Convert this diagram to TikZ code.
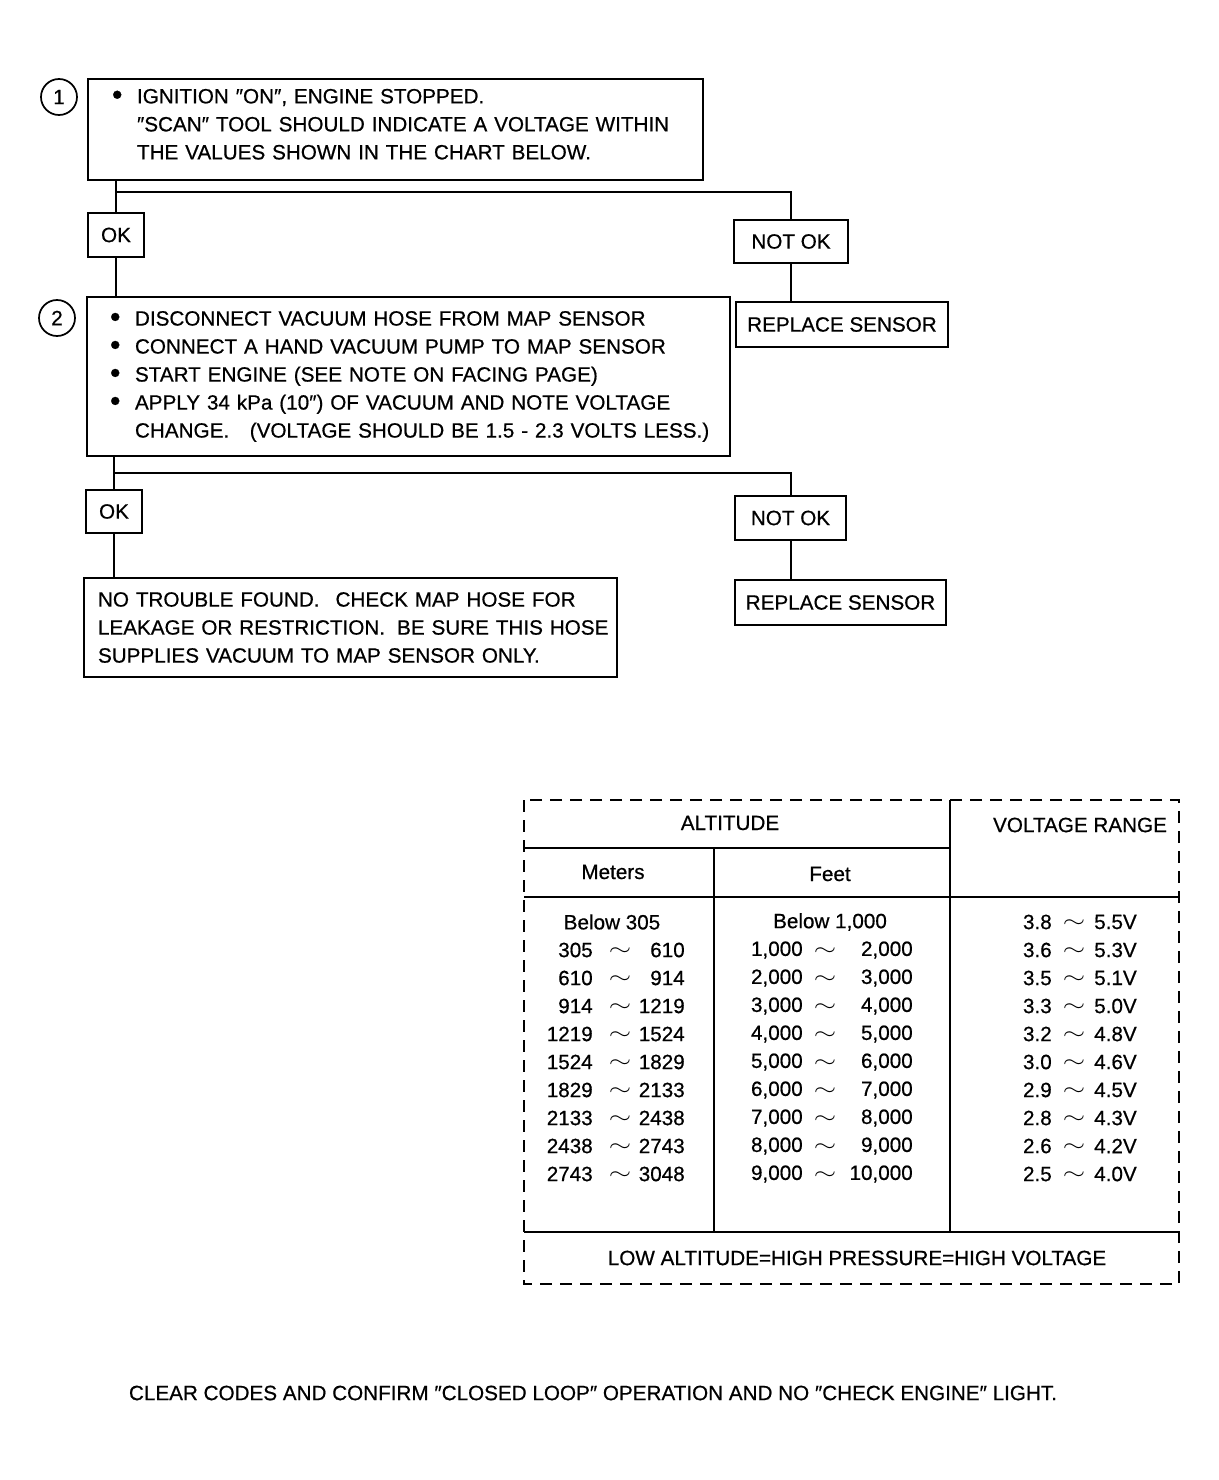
\documentclass[tikz,border=0pt]{standalone}
\usepackage{fontspec}
\setmainfont{Liberation Sans}[FakeBold=0.6]
\newcommand\blt{\makebox[18.75pt][l]{\raisebox{-0.12ex}{\scalebox{1.45}{\textbullet}}}}
\newcommand\ind{\hspace*{18.75pt}}
\newcommand\tl{\scalebox{1.5}[1.1]{$\sim$}}
\newcommand\q{″}
\begin{document}
\begin{tikzpicture}[x=0.75pt,y=-0.75pt,
  box/.style={draw, line width=1.5pt, inner sep=0pt, font=\fontsize{15.5}{21}\selectfont},
  lbl/.style={inner sep=0pt, font=\fontsize{15.5}{21}\selectfont},
  ln/.style={line width=1.5pt},
  num/.style={circle, draw, line width=1.3pt, minimum size=27pt, inner sep=0pt, font=\fontsize{15.5}{18}\selectfont},
  dsh/.style={line width=1.5pt, dash pattern=on 9pt off 6pt}]
\useasboundingbox (0,0) rectangle (1218,1480);
% step 1
\node[num] (c1) at (59,97) {1};
\node[box, minimum width=461.25pt, minimum height=75.75pt, align=left, text width=425.25pt] (b1) at (395.5,129.5)
  {\mbox{\blt IGNITION \q ON\q, ENGINE STOPPED.}\\
   \mbox{\ind \q SCAN\q\ TOOL SHOULD INDICATE A VOLTAGE WITHIN}\\
   \mbox{\ind THE VALUES SHOWN IN THE CHART BELOW.\rule[-8pt]{0pt}{8pt}}};
\node[box, minimum width=42pt, minimum height=33pt] (ok1) at (116,235) {OK};
\node[box, minimum width=85.5pt, minimum height=32.25pt] (nok1) at (791,241.5) {NOT OK};
\node[box, minimum width=159pt, minimum height=33.75pt] (r1) at (842,324.5) {REPLACE SENSOR};
% step 2
\node[num] (c2) at (57,318) {2};
\node[box, minimum width=482.25pt, minimum height=119.25pt, align=left, text width=447.75pt] (b2) at (408.5,376.5)
  {\mbox{\blt DISCONNECT VACUUM HOSE FROM MAP SENSOR}\\
   \mbox{\blt CONNECT A HAND VACUUM PUMP TO MAP SENSOR}\\
   \mbox{\blt START ENGINE (SEE NOTE ON FACING PAGE)}\\
   \mbox{\blt APPLY 34 kPa (10\q) OF VACUUM AND NOTE VOLTAGE}\\
   \mbox{\ind CHANGE.\ \ \ (VOLTAGE SHOULD BE 1.5 - 2.3 VOLTS LESS.)}};
\node[box, minimum width=42pt, minimum height=32.25pt] (ok2) at (114,511.5) {OK};
\node[box, minimum width=83.25pt, minimum height=33pt] (nok2) at (790.5,518) {NOT OK};
\node[box, minimum width=158.25pt, minimum height=33.75pt] (r2) at (840.5,602.5) {REPLACE SENSOR};
\node[box, minimum width=399.75pt, minimum height=74.25pt, align=left, text width=378.75pt] (ntf) at (350.5,627.5)
  {\mbox{NO TROUBLE FOUND.\hspace{12pt}CHECK MAP HOSE FOR}\\
   \mbox{LEAKAGE OR RESTRICTION.\hspace{9pt}BE SURE THIS HOSE}\\
   \mbox{SUPPLIES VACUUM TO MAP SENSOR ONLY.}};
% connectors
\coordinate (j1) at (116,192);
\coordinate (j2) at (114,473);
\draw[ln] (b1.south -| ok1.north) -- (ok1.north);
\draw[ln] (j1) -| (nok1.north);
\draw[ln] (nok1.south) -- (nok1.south |- r1.north);
\draw[ln] (ok1.south) -- (ok1.south |- b2.north);
\draw[ln] (b2.south -| ok2.north) -- (ok2.north);
\draw[ln] (j2) -| (nok2.north);
\draw[ln] (nok2.south) -- (nok2.south |- r2.north);
\draw[ln] (ok2.south) -- (ok2.south |- ntf.north);
% table
\draw[dsh] (524,800) rectangle (1179,1284);
\draw[ln] (524,848) -- (950,848);
\draw[ln] (524,897) -- (1179,897);
\draw[ln] (524,1232) -- (1179,1232);
\draw[ln] (950,800) -- (950,1232);
\draw[ln] (714,848) -- (714,1232);
\node[lbl] (halt) at (730,823) {ALTITUDE};
\node[lbl] (hvolt) at (1080,825) {VOLTAGE RANGE};
\node[lbl] (hm) at (613,872) {Meters};
\node[lbl] (hf) at (830,874) {Feet};
\node[lbl] (bm) at (612,922) {Below 305};
\node[lbl] (bf) at (830,922) {Below 1,000};
\foreach \y/\ma/\mb/\fa/\fb [count=\i] in {
  950/305/610/{1,000}/{2,000},
  978/610/914/{2,000}/{3,000},
  1006/914/1219/{3,000}/{4,000},
  1034/1219/1524/{4,000}/{5,000},
  1062/1524/1829/{5,000}/{6,000},
  1090/1829/2133/{6,000}/{7,000},
  1118/2133/2438/{7,000}/{8,000},
  1146/2438/2743/{8,000}/{9,000},
  1174/2743/3048/{9,000}/{10,000}}{
  \node[lbl, anchor=east] (ma\i) at (593,\y) {\ma};
  \node[lbl] (mt\i) at (620,\y+2) {\tl};
  \node[lbl, anchor=east] (mb\i) at (685,\y) {\mb};
  \node[lbl, anchor=east] (fa\i) at (803,\y) {\fa};
  \node[lbl] (ft\i) at (825,\y+2) {\tl};
  \node[lbl, anchor=east] (fb\i) at (913,\y) {\fb};
}
\foreach \y/\va/\vb [count=\i] in {
  922/3.8/5.5V, 950/3.6/5.3V, 978/3.5/5.1V, 1006/3.3/5.0V, 1034/3.2/4.8V,
  1062/3.0/4.6V, 1090/2.9/4.5V, 1118/2.8/4.3V, 1146/2.6/4.2V, 1174/2.5/4.0V}{
  \node[lbl, anchor=east] (va\i) at (1052,\y) {\va};
  \node[lbl] (vt\i) at (1074,\y+2) {\tl};
  \node[lbl, anchor=east] (vb\i) at (1137,\y) {\vb};
}
\node[lbl] (foot) at (857,1258) {LOW ALTITUDE=HIGH PRESSURE=HIGH VOLTAGE};
\node[lbl] (clear) at (593,1393) {CLEAR CODES AND CONFIRM \q CLOSED LOOP\q\ OPERATION AND NO \q CHECK ENGINE\q\ LIGHT.};
\end{tikzpicture}
\end{document}
